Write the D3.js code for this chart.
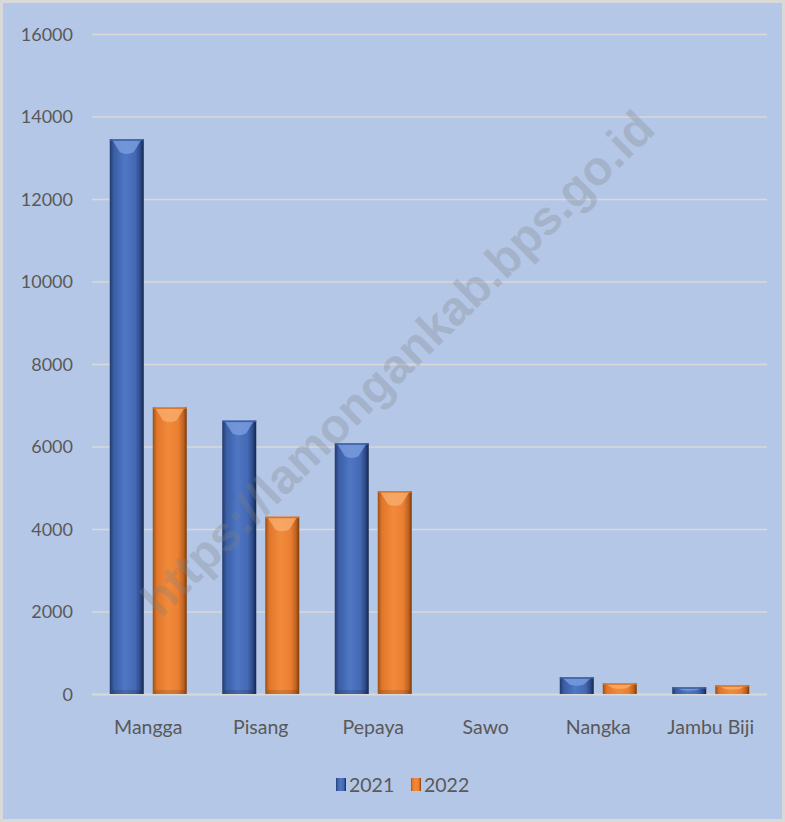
<!DOCTYPE html>
<html><head><meta charset="utf-8">
<script src="https://cdn.jsdelivr.net/npm/d3@7"></script>
<style>html,body{margin:0;padding:0;background:#b4c7e7;}svg{display:block;}</style>
</head><body>
<svg id="c" width="785" height="822"></svg>
<script>
const categories = ["Mangga","Pisang","Pepaya","Sawo","Nangka","Jambu Biji"];
const series = ["2021","2022"];
const values2021 = [13460, 6640, 6090, 0, 417, 175];
const values2022 = [6960, 4310, 4930, 0, 271, 223];
const yTicks = [0,2000,4000,6000,8000,10000,12000,14000,16000];

const svg = d3.select("#c");
const W = 785, H = 822;
svg.append("rect").attr("x",1.5).attr("y",1.5).attr("width",W-3).attr("height",H-3)
  .attr("fill","#b4c7e7").attr("stroke","#d9d9d9").attr("stroke-width",3);

const x0 = d3.scaleBand().domain(categories).range([92,767]);
const y = d3.scaleLinear().domain([0,16000]).range([694.5,34.5]);
const barW = 34, gap = 9;

const defs = svg.append("defs");
function grad(id, stops){
  const g = defs.append("linearGradient").attr("id",id).attr("x1","0").attr("x2","1").attr("y1","0").attr("y2","0");
  stops.forEach(s=>g.append("stop").attr("offset",s[0]).attr("stop-color",s[1]));
}
grad("gb",[[0,"#22396b"],[0.12,"#3a5ea6"],[0.45,"#4f77c4"],[0.75,"#4569b4"],[0.9,"#2c4a88"],[1,"#142548"]]);
grad("go",[[0,"#9a4f16"],[0.12,"#e0762a"],[0.45,"#f28a3b"],[0.75,"#e97f32"],[0.9,"#c0631f"],[1,"#7a3b0c"]]);
const fills = {"2021":"url(#gb)","2022":"url(#go)"};
const bevel = {"2021":"#7c9ee0","2022":"#f8ad6e"};
const topc = {"2021":"#3c5ea3","2022":"#d77427"};

const font = "Lato, 'Open Sans', sans-serif";

// gridlines
const grid = svg.append("g");
yTicks.forEach(t=>{
  grid.append("line").attr("x1",92).attr("x2",767).attr("y1",y(t)).attr("y2",y(t))
    .attr("stroke","#d9d9d9").attr("stroke-width",t===0?2.2:1.4);
});

// y axis labels
const yAxis = d3.axisLeft(y).tickValues(yTicks).tickSize(0).tickPadding(0).tickFormat(d3.format("d"));
const ya = svg.append("g").attr("transform","translate(73,0)").call(yAxis);
ya.select(".domain").remove();
ya.selectAll("text").attr("fill","#595959").style("font-family",font).style("font-size","18px");

// x axis labels
const xAxis = d3.axisBottom(x0).tickSize(0).tickPadding(0);
const xa = svg.append("g").attr("transform","translate(0,720)").call(xAxis);
xa.select(".domain").remove();
xa.selectAll("text").attr("fill","#595959").style("font-family",font).style("font-size","19.5px");

// bars
const data = [];
categories.forEach((c,i)=>{
  data.push({c, s:"2021", v:values2021[i], off:-gap/2-barW});
  data.push({c, s:"2022", v:values2022[i], off:gap/2});
});
const bars = svg.append("g");
data.filter(d=>d.v>0).forEach(d=>{
  const cx = x0(d.c)+x0.bandwidth()/2 + d.off;
  const top = y(d.v), bot = y(0)-0.5;
  const h = bot-top;
  const g = bars.append("g");
  g.append("rect").attr("x",cx).attr("y",top).attr("width",barW).attr("height",h).attr("fill",fills[d.s]);
  const bh = Math.min(13, h*0.45);
  g.append("path").attr("d",`M${cx+2},${top} L${cx+barW-2},${top} L${cx+barW*0.7},${top+bh} Q${cx+barW/2},${top+bh*1.25} ${cx+barW*0.3},${top+bh} Z`)
    .attr("fill",bevel[d.s]).attr("opacity",0.8);
  g.append("rect").attr("x",cx).attr("y",top).attr("width",barW).attr("height",1.5).attr("fill",topc[d.s]);
  if(h>20){
    g.append("rect").attr("x",cx+2).attr("y",bot-4).attr("width",barW-4).attr("height",4).attr("fill","#000").attr("opacity",0.12);
  }
});

// legend
const leg = svg.append("g").style("font-family",font).style("font-size","19.5px");
const legItems = [{s:"2021",x:336},{s:"2022",x:411}];
legItems.forEach(l=>{
  leg.append("rect").attr("x",l.x).attr("y",778).attr("width",10).attr("height",13).attr("fill",fills[l.s]);
  leg.append("text").attr("x",l.x+13).attr("y",792).attr("fill","#595959").text(l.s);
});

// watermark
svg.append("text").attr("transform","translate(400,366) rotate(-44.5)")
  .attr("text-anchor","middle").attr("dominant-baseline","middle")
  .style("font-family","'Liberation Sans', Arial, sans-serif").style("font-weight","bold").style("font-size","48px")
  .attr("fill","#808080").attr("opacity",0.28).text("https://lamongankab.bps.go.id");
</script>
</body></html>
